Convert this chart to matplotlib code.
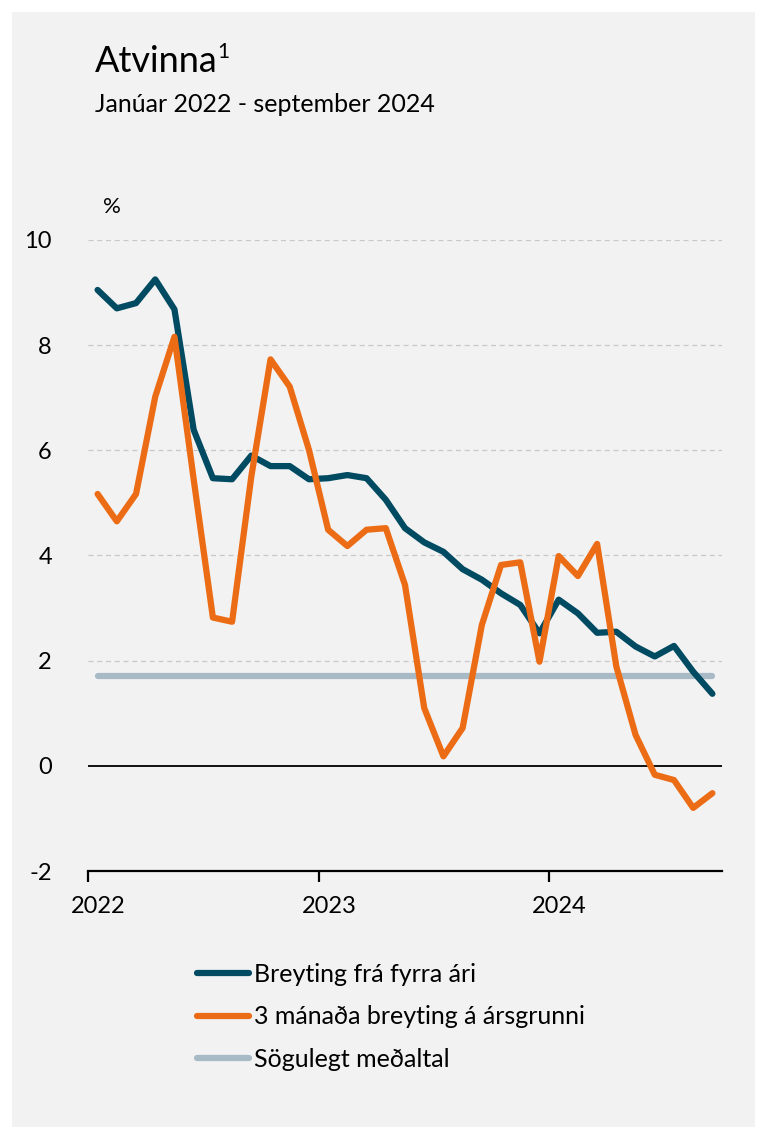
import numpy as np
import matplotlib
matplotlib.use("Agg")
import matplotlib.pyplot as plt
import matplotlib.transforms as mtransforms
from matplotlib.patches import Rectangle

# gögn: jan 2022 - sep 2024 (33 mánuðir)
breyting_fyrra_ar = [9.05, 8.70, 8.80, 9.25, 8.68, 6.39, 5.47, 5.45, 5.90, 5.70, 5.70, 5.45,
                     5.47, 5.53, 5.47, 5.06, 4.52, 4.25, 4.07, 3.74, 3.54, 3.28, 3.06, 2.52,
                     3.16, 2.90, 2.53, 2.55, 2.27, 2.08, 2.28, 1.79, 1.37]
breyting_3_man = [5.17, 4.65, 5.17, 7.02, 8.16, 5.45, 2.82, 2.74, 5.50, 7.73, 7.21, 6.01,
                  4.49, 4.18, 4.49, 4.52, 3.44, 1.10, 0.18, 0.72, 2.68, 3.82, 3.87, 1.98,
                  3.99, 3.61, 4.22, 1.89, 0.59, -0.17, -0.27, -0.80, -0.52]
sogulegt_medaltal = 1.71

ar_labels = ['2022', '2023', '2024']
y_ticks = [-2, 0, 2, 4, 6, 8, 10]

plt.rcParams['font.family'] = ['Lato', 'DejaVu Sans']

blar = '#004A62'
appelsinugulur = '#EC6C15'
grar = '#A8BAC5'

fig = plt.figure(figsize=(7.65, 11.38), dpi=100)
fig.patch.set_facecolor('white')
# grár bakgrunnur
fig.patches.append(Rectangle((12/765, 11/1138), 743/765, 1115/1138, transform=fig.transFigure,
                             facecolor='#F2F2F2', edgecolor='none', zorder=-10))

ax = fig.add_axes([88/765, (1138-871)/1138, (722-88)/765, 631/1138])
ax.set_facecolor('none')
ax.set_zorder(1)

n = len(breyting_fyrra_ar)
x = np.arange(n) + 0.5

ax.plot(x, breyting_fyrra_ar, color=blar, lw=4.5, solid_joinstyle='round', solid_capstyle='round',
        label='Breyting frá fyrra ári', zorder=3)
ax.plot(x, breyting_3_man, color=appelsinugulur, lw=4.5, solid_joinstyle='round', solid_capstyle='round',
        label='3 mánaða breyting á ársgrunni', zorder=4)
ax.plot([x[0], x[-1]], [sogulegt_medaltal] * 2, color=grar, lw=4.5, solid_capstyle='round',
        label='Sögulegt meðaltal', zorder=2)

ax.set_xlim(0, n)
ax.set_ylim(-2, 10)
ax.set_yticks(y_ticks)
ax.set_yticklabels([str(v) for v in y_ticks])
for v in [2, 4, 6, 8, 10]:
    ax.axhline(v, color='#C8C8C8', lw=0.9, ls=(0, (4, 3)), zorder=1)
ax.axhline(0, color='black', lw=1.3, zorder=1)

ax.set_xticks([0, 12, 24])
ax.set_xticklabels(ar_labels, ha='left')

for s in ['top', 'right', 'left']:
    ax.spines[s].set_visible(False)
ax.spines['bottom'].set_linewidth(1.6)
ax.tick_params(axis='y', length=0, pad=26, labelsize=17)
ax.tick_params(axis='x', length=8, width=1.6, direction='out', pad=10, labelsize=17)
off = mtransforms.ScaledTranslation(-17/100, 0, fig.dpi_scale_trans)
for lbl in ax.get_xticklabels():
    lbl.set_transform(lbl.get_transform() + off)

fig.text(95/765, 1 - 62/1138, 'Atvinna', fontsize=26, va='center', ha='left', color='black')
fig.text(217/765, 1 - 52/1138, '1', fontsize=15, va='center', ha='left', color='black')
fig.text(95/765, 1 - 104/1138, 'Janúar 2022 - september 2024', fontsize=18, va='center', ha='left')
fig.text(103/765, 1 - 207/1138, '%', fontsize=16, va='center', ha='left')

leg = ax.legend(loc='upper left', bbox_to_anchor=(197/765, 1 - 963/1138), bbox_transform=fig.transFigure,
                frameon=False, fontsize=18, handlelength=2.1, handletextpad=0.2, labelspacing=0.78,
                borderaxespad=0, borderpad=0)

fig.savefig('out.png', dpi=100, facecolor=fig.get_facecolor())
